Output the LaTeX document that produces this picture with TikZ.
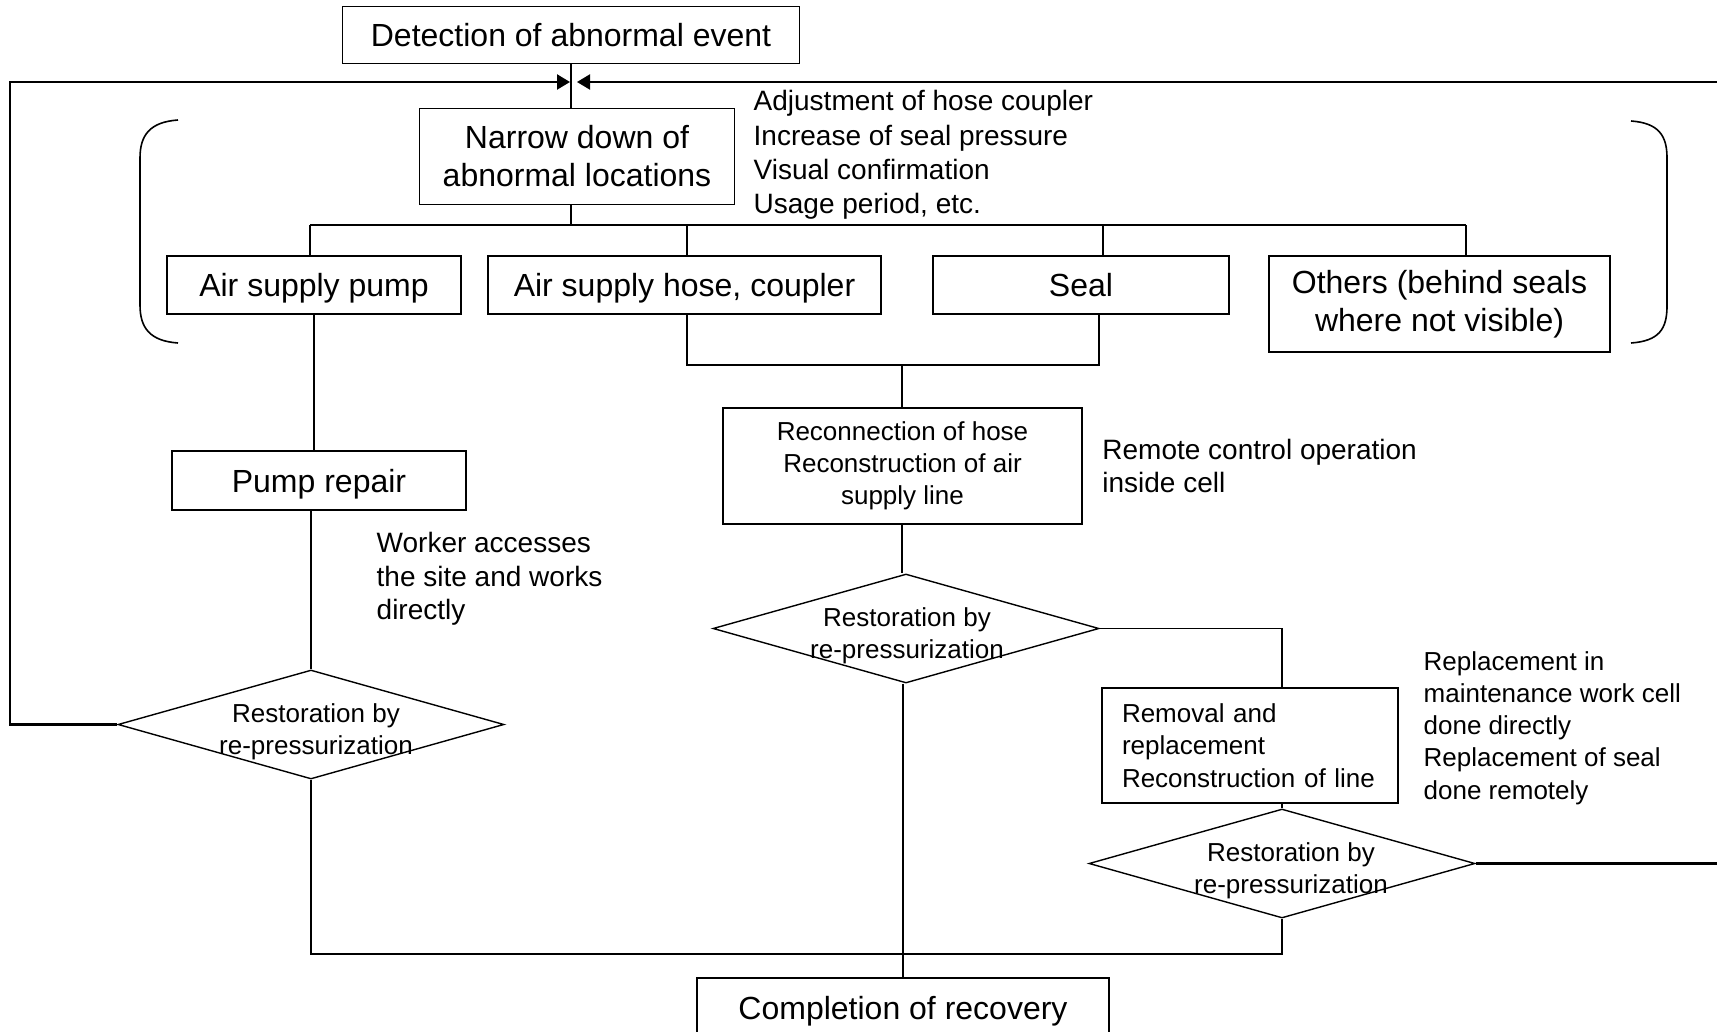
\documentclass[tikz,border=0pt]{standalone}
\usepackage{fontspec}
\setmainfont{Liberation Sans}
\usepackage{tikz}
\usetikzlibrary{positioning}
\usetikzlibrary{shapes.geometric}
\usetikzlibrary{arrows.meta}

\newcommand{\flowbig}{\fontsize{16}{19}\selectfont}
\newcommand{\flowsmall}{\fontsize{13}{16.1}\selectfont}
\newcommand{\flownote}{\fontsize{14}{16.8}\selectfont}

\begin{document}
\begin{tikzpicture}[x=0.5pt, y=-0.5pt, line width=0.7pt,
    stepbox/.style={draw, rectangle, inner sep=0pt, align=center, font=\flowbig},
    oneline/.style={text depth=0pt},
    smallbox/.style={draw, rectangle, inner sep=0pt, align=center, font=\flowsmall},
    check/.style={draw, diamond, inner sep=0pt, minimum width=193pt, minimum height=54.5pt},
    checktext/.style={align=center, font=\flowsmall, inner sep=0pt},
    note/.style={align=left, font=\flownote, inner sep=0pt, anchor=west},
    loopline/.style={line width=1.1pt, -{Triangle[length=6.5pt, width=7.5pt]}},
    paren/.style={line width=0.8pt}]

    \useasboundingbox (0,0) rectangle (1717,1032);

    \node[stepbox, oneline, minimum width=228.5pt, minimum height=28.5pt] (detect) at (571,35) {Detection of abnormal event};
    \node[stepbox, minimum width=157.5pt, minimum height=48pt] (narrow) at (577,156.5) {Narrow down of\\abnormal locations};
    \node[note, font=\fontsize{14}{17.2}\selectfont] (hints) at (753,155) {Adjustment of hose coupler\\Increase of seal pressure\\Visual confirmation\\Usage period, etc.};

    \node[stepbox, oneline, minimum width=147pt, minimum height=29pt] (pump) at (314,285) {Air supply pump};
    \node[stepbox, oneline, minimum width=196.5pt, minimum height=29pt] (hose) at (684.5,285) {Air supply hose, coupler};
    \node[stepbox, oneline, minimum width=148pt, minimum height=29pt] (seal) at (1081,285) {Seal};
    \node[stepbox, minimum width=170.5pt, minimum height=48pt] (others) at (1439.5,304) {Others (behind seals\\where not visible)};

    \node[stepbox, oneline, minimum width=147pt, minimum height=29.5pt] (repair) at (319,480.5) {Pump repair};
    \node[note] (worker) at (376,579) {Worker accesses\\the site and works\\directly};

    \node[smallbox, minimum width=179.5pt, minimum height=58pt] (recon) at (902.5,466) {Reconnection of hose\\Reconstruction of air\\supply line};
    \node[note, right=9.5pt of recon] (remote) {Remote control operation\\inside cell};

    \node[check] (d1) at (311,724.5) {};
    \node[checktext] (d1t) at (316,732) {Restoration by\\re-pressurization};
    \node[check] (d2) at (906,628.5) {};
    \node[checktext] (d2t) at (907,636) {Restoration by\\re-pressurization};

    \node[smallbox, align=left, text width=128pt, inner xsep=10pt, minimum height=57.5pt] (removal) at (1250,745.5) {Removal and\\replacement\\Reconstruction of line};
    \node[note, font=\flowsmall] (replace) at (1423,728) {Replacement in\\maintenance work cell\\done directly\\Replacement of seal\\done remotely};
    \node[check] (d3) at (1282,863.5) {};
    \node[checktext] (d3t) at (1291,871) {Restoration by\\re-pressurization};

    \node[stepbox, oneline, minimum width=206pt, minimum height=30pt] (done) at (903,1008) {Completion of recovery};

    \coordinate (branch) at (571,225);
    \coordinate (join) at (902,365);
    \coordinate (bottom) at (903,954);
    \coordinate (tipL) at (570,82);
    \coordinate (tipR) at (577,82);
    \coordinate (farL) at (10,82);
    \coordinate (farR) at (1760,82);

    \draw (detect.south) -- (detect.south |- narrow.north);
    \draw (branch |- narrow.south) -- (branch);
    \draw ([xshift=-2pt]pump.north |- branch) -- ([xshift=13.25pt]others.north |- branch);
    \foreach \b/\dx in {pump/-2pt, hose/1.25pt, seal/11pt, others/13.25pt}
        \draw ([xshift=\dx]\b.north) -- ([xshift=\dx]\b.north |- branch);

    \draw ([xshift=1.25pt]hose.south) |- (join) -| ([xshift=9pt]seal.south);
    \draw (join) -- (join |- recon.north);
    \draw (join |- recon.south) -- (join |- d2.north);
    \draw (done.north |- d2.south) -- (done.north);
    \draw (d2.east) -| (removal.north -| d3.north);
    \draw (removal.south -| d3.north) -- (d3.north);

    \draw (pump.south) -- (pump.south |- repair.north);
    \draw (repair.south -| d1.north) -- (d1.north);
    \draw (d1.south) |- (bottom) -| (d3.south);

    \draw[loopline] (d1.west) -| (farL) -- (tipL);
    \draw[loopline] (d3.east) -| (farR) -- (tipR);

    \draw[paren] (178,120) .. controls (150,122) and (140,135) .. (140,158) -- (140,305) .. controls (140,328) and (150,341) .. (178,343);
    \draw[paren] (1631,121) .. controls (1659,123) and (1667,136) .. (1667,158) -- (1667,306) .. controls (1667,329) and (1659,341) .. (1631,343);
\end{tikzpicture}
\end{document}
